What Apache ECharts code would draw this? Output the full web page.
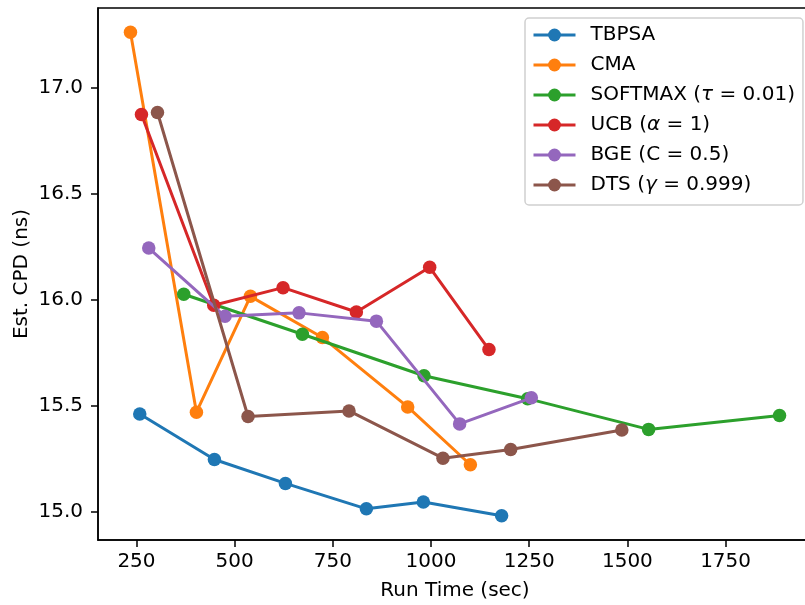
<!DOCTYPE html>
<html>
<head>
<meta charset="utf-8">
<script src="https://cdn.jsdelivr.net/npm/echarts@6/dist/echarts.min.js"></script>
<style>
  html, body { margin: 0; padding: 0; background: #fff; }
  #chart { width: 805px; height: 605px; }
</style>
</head>
<body>
<div id="chart"></div>
<script>
// Estimated CPD versus run time for each optimiser
const seriesNames = ['TBPSA', 'CMA', 'SOFTMAX (τ = 0.01)', 'UCB (α = 1)', 'BGE (C = 0.5)', 'DTS (γ = 0.999)'];

const timeTBPSA = [258.4, 448.5, 629.3, 835.4, 980.5, 1179.8];
const cpdTBPSA  = [15.462, 15.247, 15.134, 15.014, 15.046, 14.981];

const timeCMA = [234.7, 402.7, 540.2, 723.4, 940.6, 1100.2];
const cpdCMA  = [17.264, 15.470, 16.017, 15.823, 15.495, 15.222];

const timeSoftmax = [370.4, 672.5, 982.1, 1246.0, 1554.0, 1887.4];
const cpdSoftmax  = [16.027, 15.838, 15.642, 15.534, 15.389, 15.455];

const timeUCB = [262.7, 446.8, 623.2, 810.0, 996.6, 1147.5];
const cpdUCB  = [16.875, 15.975, 16.058, 15.943, 16.154, 15.766];

const timeBGE = [281.3, 475.5, 663.9, 860.9, 1072.9, 1255.4];
const cpdBGE  = [16.245, 15.923, 15.939, 15.900, 15.415, 15.538];

const timeDTS = [303.5, 534.1, 791.2, 1030.4, 1202.8, 1485.8];
const cpdDTS  = [16.885, 15.450, 15.476, 15.253, 15.294, 15.386];

const xTicks = [250, 500, 750, 1000, 1250, 1500, 1750];
const yTicks = [15.0, 15.5, 16.0, 16.5, 17.0];

const palette = ['#1f77b4', '#ff7f0e', '#2ca02c', '#d62728', '#9467bd', '#8c564b'];

const allTimes = [timeTBPSA, timeCMA, timeSoftmax, timeUCB, timeBGE, timeDTS];
const allCpd = [cpdTBPSA, cpdCMA, cpdSoftmax, cpdUCB, cpdBGE, cpdDTS];

// Autoscale with a 5% margin on each side
function paddedRange(arrays) {
  const flat = [].concat(...arrays);
  const lo = Math.min(...flat), hi = Math.max(...flat);
  const pad = (hi - lo) * 0.05;
  return [lo - pad, hi + pad];
}
const [xMin, xMax] = paddedRange(allTimes);
const [yMin, yMax] = paddedRange(allCpd);

const FONT = 'DejaVu Sans';
const FS = 20;

const series = seriesNames.map((name, i) => ({
  name: name,
  type: 'line',
  data: allTimes[i].map((t, k) => [t, allCpd[i][k]]),
  symbol: 'circle',
  symbolSize: 13.5,
  showSymbol: true,
  lineStyle: { width: 3, color: palette[i] },
  itemStyle: { color: palette[i] },
  z: 2 + i,
  emphasis: { disabled: true }
}));

const chart = echarts.init(document.getElementById('chart'), null, { renderer: 'canvas' });
chart.setOption({
  animation: false,
  color: palette,
  textStyle: { fontFamily: FONT },
  grid: {
    left: 98, top: 8, width: 714, height: 532,
    outerBoundsMode: 'none',
    show: true, borderColor: '#000', borderWidth: 1.5, backgroundColor: 'transparent'
  },
  xAxis: {
    type: 'value', min: xMin, max: xMax,
    name: 'Run Time (sec)', nameLocation: 'middle', nameGap: 41,
    nameTextStyle: { fontFamily: FONT, fontSize: FS, color: '#000' },
    axisLine: { show: true, onZero: false, lineStyle: { color: '#000', width: 1.5 } },
    axisTick: { show: true, length: 7, lineStyle: { color: '#000', width: 1.5 }, customValues: xTicks },
    axisLabel: { fontFamily: FONT, fontSize: FS, color: '#000', margin: 12, customValues: xTicks,
                 formatter: v => String(Math.round(v)) },
    splitLine: { show: false }
  },
  yAxis: {
    type: 'value', min: yMin, max: yMax,
    name: 'Est. CPD (ns)', nameLocation: 'middle', nameGap: 66, nameMoveOverlap: false,
    nameTextStyle: { fontFamily: FONT, fontSize: FS, color: '#000' },
    axisLine: { show: true, onZero: false, lineStyle: { color: '#000', width: 1.5 } },
    axisTick: { show: true, length: 7, lineStyle: { color: '#000', width: 1.5 }, customValues: yTicks },
    axisLabel: { fontFamily: FONT, fontSize: FS, color: '#000', margin: 15, customValues: yTicks,
                 formatter: v => v.toFixed(1) },
    splitLine: { show: false }
  },
  legend: {
    orient: 'vertical',
    left: 525, top: 18,
    padding: [7, 8, 10, 7],
    itemWidth: 42, itemHeight: 16, itemGap: 10,
    backgroundColor: 'rgba(255,255,255,0.8)',
    borderColor: '#d0d0d0', borderWidth: 1.5, borderRadius: 4,
    lineStyle: { width: 3 },
    data: seriesNames,
    formatter: name => name.replace(/([ταγ])/, '{i|$1}'),
    textStyle: {
      fontFamily: FONT, fontSize: FS, color: '#000', padding: [0, 0, 0, 10],
      rich: { i: { fontFamily: FONT, fontSize: FS, fontStyle: 'italic', color: '#000' } }
    }
  },
  series: series
});
</script>
</body>
</html>
